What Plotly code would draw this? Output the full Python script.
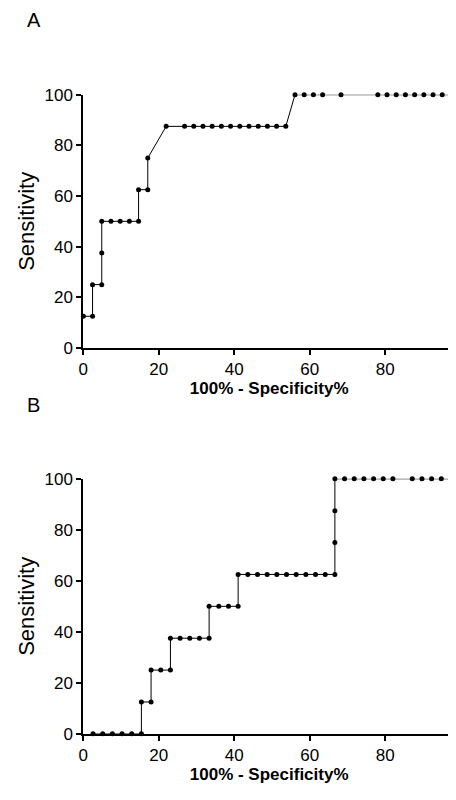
import plotly.graph_objects as go

# panel A: x in steps of 100/41
a_idx = [0, 1, 1, 2, 2, 2, 3, 4, 5, 6, 6, 7, 7, 9, 11, 12, 13, 14, 15, 16, 17, 18, 19, 20, 21, 22,
         23, 24, 25, 26, 28, 32, 33, 34, 35, 36, 37, 38, 39, 40]
a_sens = [12.5, 12.5, 25, 25, 37.5, 50, 50, 50, 50, 50, 62.5, 62.5, 75, 87.5, 87.5, 87.5, 87.5, 87.5,
          87.5, 87.5, 87.5, 87.5, 87.5, 87.5, 87.5, 87.5,
          100, 100, 100, 100, 100, 100, 100, 100, 100, 100, 100, 100, 100, 100]
# panel B: x in steps of 100/39
b_idx = [1, 2, 3, 4, 5, 6, 6, 7, 7, 8, 9, 9, 10, 11, 12, 13, 13, 14, 15, 16, 16,
         17, 18, 19, 20, 21, 22, 23, 24, 25, 26, 26, 26, 26, 27, 28, 29, 30, 31, 32, 34, 35, 36, 37, 38]
b_sens = [0, 0, 0, 0, 0, 0, 12.5, 12.5, 25, 25, 25, 37.5, 37.5, 37.5, 37.5, 37.5, 50, 50, 50, 50, 62.5,
          62.5, 62.5, 62.5, 62.5, 62.5, 62.5, 62.5, 62.5, 62.5, 62.5, 75, 87.5, 100, 100, 100, 100, 100, 100, 100,
          100, 100, 100, 100, 100]

a_x = [i * 100 / 41 for i in a_idx]
b_x = [i * 100 / 39 for i in b_idx]

fig = go.Figure()
style = dict(mode="lines+markers", line=dict(color="black", width=1),
             marker=dict(color="black", size=5), cliponaxis=False, showlegend=False)
fig.add_trace(go.Scatter(x=a_x, y=a_sens, xaxis="x", yaxis="y", **style))
fig.add_trace(go.Scatter(x=b_x, y=b_sens, xaxis="x2", yaxis="y2", **style))

ax = dict(showline=True, linecolor="black", linewidth=2, ticks="outside", ticklen=5, tickwidth=2,
          tickcolor="black", showgrid=False, zeroline=False,
          tickfont=dict(family="Arial", size=17, color="black"))
xt = dict(text="<b>100% - Specificity%</b>", font=dict(family="Arial", size=17, color="black"), standoff=4)
yt = dict(text="Sensitivity", font=dict(family="Arial", size=22, color="black"), standoff=4)

fig.update_layout(
    width=456, height=800, margin=dict(l=0, r=0, t=0, b=0),
    plot_bgcolor="white", paper_bgcolor="white",
    xaxis=dict(domain=[0.156, 0.98], range=[0, 98.5], tickvals=[0, 20, 40, 60, 80], anchor="y", title=xt,
               tickprefix="<b>", ticksuffix="</b>", **ax),
    yaxis=dict(domain=[1 - 339 / 800, 1 - 79.6 / 800], range=[0, 100], tickvals=[0, 20, 40, 60, 80, 100],
               anchor="x", title=yt, tickprefix="<b>", ticksuffix="</b>", **ax),
    xaxis2=dict(domain=[0.156, 0.98], range=[0, 98.5], tickvals=[0, 20, 40, 60, 80], anchor="y2", title=xt,
                tickprefix="<b>", ticksuffix="</b>", **ax),
    yaxis2=dict(domain=[1 - 734.3 / 800, 1 - 473 / 800], range=[0, 100], tickvals=[0, 20, 40, 60, 80, 100],
                anchor="x2", title=yt, tickprefix="<b>", ticksuffix="</b>", **ax),
    annotations=[
        dict(text="A", x=12 / 456, y=1 - 3 / 800, xref="paper", yref="paper", showarrow=False,
             yanchor="middle", font=dict(family="Arial", size=20, color="black")),
        dict(text="B", x=12 / 456, y=1 - 397 / 800, xref="paper", yref="paper", showarrow=False,
             yanchor="middle", font=dict(family="Arial", size=20, color="black")),
    ],
)

fig.write_html("out.html")
